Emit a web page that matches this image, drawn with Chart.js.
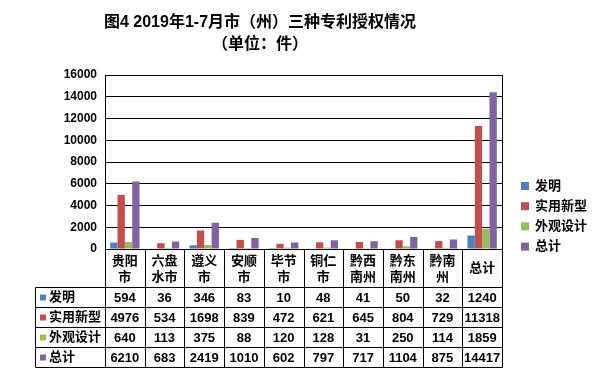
<!DOCTYPE html>
<html>
<head>
<meta charset="utf-8">
<script src="https://cdn.jsdelivr.net/npm/chart.js@4.4.1/dist/chart.umd.min.js"></script>
<style>
body { margin: 0; background: #fff; }
</style>
</head>
<body>
<canvas id="patent-chart" width="612" height="389"></canvas>
<script>
var Cities = [['贵阳', '市'], ['六盘', '水市'], ['遵义', '市'], ['安顺', '市'], ['毕节', '市'],
    ['铜仁', '市'], ['黔西', '南州'], ['黔东', '南州'], ['黔南', '州'], ['总计']];
var Invention = [594, 36, 346, 83, 10, 48, 41, 50, 32, 1240];
var Utility = [4976, 534, 1698, 839, 472, 621, 645, 804, 729, 11318];
var Design = [640, 113, 375, 88, 120, 128, 31, 250, 114, 1859];
var Total = [6210, 683, 2419, 1010, 602, 797, 717, 1104, 875, 14417];
var SeriesNames = ['发明', '实用新型', '外观设计', '总计'];
var Colors = ['#4F81BD', '#C0504D', '#9BBB59', '#8064A2'];
var TitleLines = ['图4 2019年1-7月市（州）三种专利授权情况', '（单位：件）'];

var FONT = '"Liberation Sans", "Noto Sans CJK SC", sans-serif';

function line(ctx, x1, y1, x2, y2) {
    ctx.beginPath();
    ctx.moveTo(x1, y1);
    ctx.lineTo(x2, y2);
    ctx.stroke();
}

// table under the plot, legend on the right, title on top
var tablePlugin = {
    id: 'tablePlugin',
    afterDraw: function (chart) {
        let ctx = chart.ctx;
        let area = chart.chartArea;
        let xs = chart.scales.x;
        let colW = (area.right - area.left) / Cities.length;
        let L = Math.round(area.left) + 0.5;
        let R = Math.round(area.right) + 0.5;
        let T = Math.round(area.top) + 0.5;
        let B = Math.round(area.bottom) + 0.5;
        let tableLeft = 35.5;
        let headBottom = 287.5;
        let rowH = 20;
        let rows = [Invention, Utility, Design, Total];

        ctx.save();
        ctx.strokeStyle = '#000';
        ctx.lineWidth = 1;

        // plot frame
        line(ctx, L, T, R, T);
        line(ctx, L, T, L, headBottom + rowH * 4);
        line(ctx, R, T, R, headBottom + rowH * 4);
        line(ctx, L, B, R, B);

        // column dividers
        for (let i = 1; i < Cities.length; i++) {
            let x = Math.round(area.left + colW * i) + 0.5;
            line(ctx, x, B, x, headBottom + rowH * 4);
        }
        // row lines
        for (let r = 0; r <= 4; r++) {
            let y = headBottom + rowH * r;
            line(ctx, tableLeft, y, R, y);
        }
        line(ctx, tableLeft, headBottom, tableLeft, headBottom + rowH * 4);

        // header labels
        ctx.fillStyle = '#000';
        ctx.textAlign = 'center';
        ctx.textBaseline = 'middle';
        ctx.font = 'bold 13px ' + FONT;
        Cities.forEach(function (lab, i) {
            let cx = xs.getPixelForValue(i);
            if (lab.length === 2) {
                ctx.fillText(lab[0], cx, 261);
                ctx.fillText(lab[1], cx, 277);
            } else {
                ctx.fillText(lab[0], cx, 268);
            }
        });

        // rows
        rows.forEach(function (vals, r) {
            let cy = headBottom + rowH * r + rowH / 2;
            ctx.fillStyle = Colors[r];
            ctx.fillRect(40, cy - 3, 6, 6);
            ctx.fillStyle = '#000';
            ctx.textAlign = 'left';
            ctx.font = 'bold 13px ' + FONT;
            ctx.fillText(SeriesNames[r], 49, cy);
            ctx.textAlign = 'center';
            vals.forEach(function (v, i) {
                ctx.fillText(String(v), xs.getPixelForValue(i), cy + 0.5);
            });
        });

        // legend
        ctx.textAlign = 'left';
        ctx.font = 'bold 13px ' + FONT;
        SeriesNames.forEach(function (n, i) {
            let cy = 186 + i * 20.2;
            ctx.fillStyle = Colors[i];
            ctx.fillRect(521, cy - 4, 8, 8);
            ctx.fillStyle = '#000';
            ctx.fillText(n, 535, cy);
        });

        // title
        ctx.textAlign = 'center';
        ctx.font = 'bold 16px ' + FONT;
        ctx.fillText(TitleLines[0], 260, 23);
        ctx.fillText(TitleLines[1], 260, 45);
        ctx.restore();
    }
};

let patentChart = new Chart('patent-chart', {
    type: 'bar',
    data: {
        labels: Cities.map(function (c) { return c.join(''); }),
        datasets: [
            { label: SeriesNames[0], data: Invention, backgroundColor: Colors[0] },
            { label: SeriesNames[1], data: Utility, backgroundColor: Colors[1] },
            { label: SeriesNames[2], data: Design, backgroundColor: Colors[2] },
            { label: SeriesNames[3], data: Total, backgroundColor: Colors[3] }
        ]
    },
    options: {
        responsive: false,
        animation: false,
        devicePixelRatio: 1,
        layout: { padding: { left: 0, right: 110, top: 75, bottom: 140 } },
        datasets: { bar: { barPercentage: 1, categoryPercentage: 0.74 } },
        plugins: {
            legend: { display: false },
            title: { display: false },
            tooltip: { enabled: false }
        },
        scales: {
            x: { display: false },
            y: {
                min: 0,
                max: 16000,
                afterFit: function (s) { s.width = 105; },
                ticks: {
                    stepSize: 2000,
                    color: '#000',
                    padding: 8,
                    font: { family: FONT, size: 12, weight: 'bold' },
                    callback: function (v) { return String(v); }
                },
                grid: { color: '#000', lineWidth: 1, drawTicks: false },
                border: { display: false }
            }
        }
    },
    plugins: [tablePlugin]
});
</script>
</body>
</html>
